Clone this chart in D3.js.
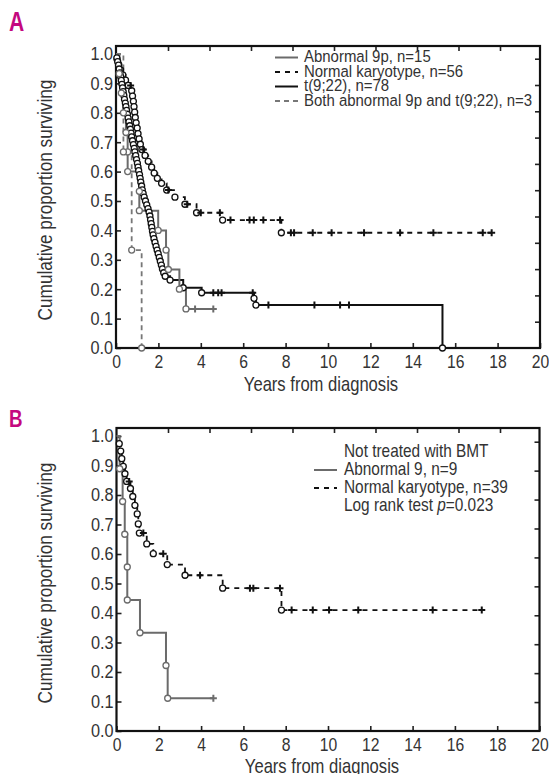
<!DOCTYPE html>
<html><head><meta charset="utf-8">
<script src="https://cdn.jsdelivr.net/npm/d3@7"></script>
<style>
body{margin:0;background:#fff}
svg{display:block}
text{font-family:'Liberation Sans',Arial,sans-serif;fill:#333}
</style>
</head><body>
<svg id="c" width="549" height="774"></svg>
<script>
// ---------- tick labels ----------
const xTicks = [0, 2, 4, 6, 8, 10, 12, 14, 16, 18, 20];
const yTicks = [0.0, 0.1, 0.2, 0.3, 0.4, 0.5, 0.6, 0.7, 0.8, 0.9, 1.0];
const topTicks = [1, 2, 3, 4, 5, 6, 7, 8, 9];
const rightTicksA = [1, 2, 3, 4, 5, 6, 7, 8, 9, 10, 11];
const rightTicksB = [1, 2, 3, 4, 5, 6, 7, 8, 9, 10];

// ---------- Panel A ----------
const aNormalEvT = [0.05,0.13,0.22,0.32,0.45,0.58,0.74,0.78,0.82,0.85,0.88,0.91,0.95,1.0,1.04,1.09,1.15,1.22,1.37,1.52,1.68,1.8,1.95,2.15,2.39,2.78,3.25,3.8,5.03,7.8];
const aNormalEvS = [0.982,0.964,0.946,0.929,0.911,0.893,0.875,0.857,0.839,0.821,0.802,0.784,0.766,0.748,0.729,0.711,0.693,0.675,0.655,0.635,0.615,0.595,0.577,0.56,0.537,0.513,0.489,0.46,0.435,0.392];
const aNormalCenT = [0.69,1.29,2.47,3.36,4.0,4.9,5.4,6.3,6.5,6.95,7.74,8.25,8.4,9.28,10.17,11.7,13.4,14.97,17.3,17.72];

const aT922EvT = [0.04,0.08,0.12,0.15,0.19,0.22,0.25,0.28,0.31,0.34,0.37,0.40,0.44,0.47,0.50,0.54,0.57,0.61,0.65,0.68,0.71,0.74,0.78,0.82,0.86,0.89,0.93,0.97,1.01,1.04,1.07,1.11,1.14,1.17,1.21,1.24,1.28,1.33,1.39,1.45,1.51,1.56,1.60,1.63,1.66,1.69,1.72,1.75,1.79,1.84,1.89,1.94,1.99,2.04,2.09,2.14,2.19,2.25,2.32,2.55,3.17,4.04,6.51,6.6,15.4];
const aT922EvS = [0.987,0.974,0.962,0.949,0.936,0.923,0.910,0.897,0.885,0.872,0.859,0.846,0.833,0.821,0.808,0.795,0.782,0.769,0.756,0.744,0.731,0.718,0.705,0.692,0.679,0.667,0.654,0.641,0.628,0.615,0.603,0.590,0.577,0.564,0.551,0.538,0.526,0.513,0.500,0.487,0.474,0.462,0.449,0.436,0.423,0.410,0.397,0.385,0.372,0.359,0.346,0.333,0.321,0.308,0.295,0.282,0.269,0.256,0.244,0.231,0.205,0.188,0.169,0.146,0.0];
const aT922CenT = [4.59,4.82,4.98,6.45,7.19,9.36,10.57,10.99];

const aAb9pEvT = [0.15,0.25,0.35,0.47,0.55,0.55,1.1,1.1,1.99,2.36,2.47,2.99,3.3];
const aAb9pEvS = [0.933,0.867,0.8,0.733,0.667,0.6,0.533,0.467,0.4,0.333,0.267,0.2,0.133];
const aAb9pCenT = [3.73,4.59];

const aBothEvT = [0.35,0.74,1.21];
const aBothEvS = [0.667,0.333,0.0];
const aBothCenT = [];

const aLegend = ["Abnormal 9p, n=15","Normal karyotype, n=56","t(9;22), n=78","Both abnormal 9p and t(9;22), n=3"];

// ---------- Panel B ----------
const bNormalEvT = [0.13,0.2,0.25,0.32,0.4,0.48,0.66,0.77,0.87,0.98,1.03,1.08,1.43,1.74,2.4,3.24,5.02,7.8];
const bNormalEvS = [0.974,0.949,0.923,0.897,0.872,0.846,0.822,0.795,0.765,0.736,0.702,0.671,0.634,0.601,0.564,0.528,0.484,0.41];
const bNormalCenT = [0.6,1.27,2.21,3.95,6.31,6.47,7.73,8.28,9.28,10.05,11.43,14.95,17.27];

const bAb9EvT = [0.15,0.29,0.39,0.51,0.51,1.11,2.34,2.42];
const bAb9EvS = [0.889,0.778,0.667,0.556,0.444,0.333,0.222,0.111];
const bAb9CenT = [4.58];

const bLegendTitle = "Not treated with BMT";
const bLegend = ["Abnormal 9, n=9","Normal karyotype, n=39"];

// ---------- drawing ----------
const svg = d3.select('#c');
const GRAY = '#6b6b6b';
const BLACK = '#111';

const styles = {
  gray:   {stroke: GRAY, width: 2, dash: null, circ: '#6b6b6b'},
  grayD:  {stroke: '#777', width: 1.8, dash: '5,4', circ: '#6b6b6b'},
  blackD: {stroke: BLACK, width: 1.8, dash: '5,5', circ: BLACK},
  black:  {stroke: BLACK, width: 2, dash: null, circ: BLACK}
};

// horizontally condense text (simulate a condensed face)
function narrow(sel, k) {
  sel.each(function () {
    const t = d3.select(this);
    const x = +t.attr('x') || 0;
    t.attr('x', x / k);
    const tr = t.attr('transform') || '';
    t.attr('transform', (tr + ` scale(${k},1)`).trim());
  });
}

function buildPanel(p) {
  const g = svg.append('g');
  const x = d3.scaleLinear().domain([0, 20]).range([p.left, p.right]);
  const y = d3.scaleLinear().domain([0, 1]).range([p.bottom, p.y1]);
  const xTop = d3.scaleLinear().domain([0, 10]).range([126.5, 541.5]);
  const yRight = d3.scaleLinear().domain([0, p.rightTicks.length]).range([p.bottom, p.bottom - 289.3]);

  // axes
  const ax = g.append('g').attr('transform', `translate(0,${p.bottom})`)
    .call(d3.axisBottom(x).tickValues(xTicks).tickSize(-5).tickPadding(7).tickFormat(d3.format('d')));
  const ay = g.append('g').attr('transform', `translate(${p.left},0)`)
    .call(d3.axisLeft(y).tickValues(yTicks).tickSize(-5).tickPadding(3).tickFormat(d3.format('.1f')));
  const at = g.append('g').attr('transform', `translate(0,${p.top})`)
    .call(d3.axisTop(xTop).tickValues(topTicks).tickSize(-5).tickFormat(''));
  const ar = g.append('g').attr('transform', `translate(${p.right},0)`)
    .call(d3.axisRight(yRight).tickValues(p.rightTicks).tickSize(-5).tickFormat(''));
  [ax, ay, at, ar].forEach(a => {
    a.select('.domain').remove();
    a.selectAll('line').attr('stroke', '#222').attr('stroke-width', 1.6);
    a.selectAll('text').attr('font-size', 18.5).attr('fill', '#333')
      .attr('font-family', "'Liberation Sans',Arial,sans-serif");
  });
  narrow(ax.selectAll('text'), 0.85);
  narrow(ay.selectAll('text'), 0.88);
  g.append('rect').attr('x', p.left).attr('y', p.top)
    .attr('width', p.right - p.left).attr('height', p.bottom - p.top)
    .attr('fill', 'none').attr('stroke', BLACK).attr('stroke-width', 2.2);

  // axis titles
  const xt = g.append('text').attr('x', p.xTitleX).attr('y', p.xTitleY)
    .attr('text-anchor', 'middle').attr('font-size', 20).text('Years from diagnosis');
  narrow(xt, 0.83);
  const yt = g.append('text').attr('transform', `translate(${p.yTitleX},${p.yTitleC}) rotate(-90)`)
    .attr('text-anchor', 'middle').attr('font-size', 20).text('Cumulative proportion surviving');
  narrow(yt, 0.86);

  // panel letter
  const lt = g.append('text').attr('x', 9).attr('y', p.letterY).attr('font-size', p.letterSize).attr('font-weight', 'bold')
    .style('fill', '#c4087f').text(p.letter);
  narrow(lt, 0.78);

  // curves
  const curveG = g.append('g');
  p.curves.forEach(c => {
    const st = styles[c.style];
    const items = c.evT.map((t, i) => ({t, s: c.evS[i], e: true}))
      .concat(c.cenT.map(t => ({t, e: false})))
      .sort((a, b) => a.t - b.t || (a.e - b.e));
    let cur = 1;
    const pts = [[x(0), y(1)]];
    const circles = [], crosses = [];
    items.forEach(it => {
      pts.push([x(it.t), y(cur)]);
      if (it.e) { cur = it.s; pts.push([x(it.t), y(cur)]); circles.push([x(it.t), y(cur)]); }
      else crosses.push([x(it.t), y(cur)]);
    });
    c.pts = pts; c.circles = circles; c.crosses = crosses; c.st = st;
  });
  p.curves.forEach(c => {
    curveG.append('path').attr('d', d3.line()(c.pts)).attr('fill', 'none')
      .attr('stroke', c.st.stroke).attr('stroke-width', c.st.width)
      .attr('stroke-dasharray', c.st.dash);
  });
  p.curves.forEach(c => {
    curveG.selectAll(null).data(c.circles).join('circle')
      .attr('cx', d => d[0]).attr('cy', d => d[1]).attr('r', 3)
      .attr('fill', '#fff').attr('stroke', c.st.circ).attr('stroke-width', 1.3);
    curveG.selectAll(null).data(c.crosses).join('path')
      .attr('d', d => `M${d[0]-3.5},${d[1]}h7M${d[0]},${d[1]-3.5}v7`)
      .attr('stroke', c.st.circ).attr('stroke-width', 2).attr('fill', 'none');
  });

  // legend
  const lg = g.append('g');
  p.legend.forEach((l, i) => {
    const yy = p.legY0 + i * p.legStep;
    if (l.style) {
      const st = styles[l.style];
      lg.append('line').attr('x1', p.legX1).attr('x2', p.legX2).attr('y1', yy - 5).attr('y2', yy - 5)
        .attr('stroke', st.stroke).attr('stroke-width', st.width).attr('stroke-dasharray', st.dash);
    }
    const t = lg.append('text').attr('x', p.legTX).attr('y', yy).attr('font-size', p.legFont);
    if (l.html) {
      t.append('tspan').text('Log rank test\u00A0');
      t.append('tspan').attr('font-style', 'italic').text('p');
      t.append('tspan').text('=0.023');
    } else t.text(l.text);
    narrow(t, p.legK);
  });
}

buildPanel({
  letter: 'A', letterY: 31, letterSize: 27,
  left: 116, right: 540, top: 46, bottom: 348, y1: 54,
  rightTicks: rightTicksA,
  xTitleX: 321, xTitleY: 391, yTitleX: 52, yTitleC: 200,
  curves: [
    {evT: aNormalEvT, evS: aNormalEvS, cenT: aNormalCenT, style: 'blackD'},
    {evT: aT922EvT, evS: aT922EvS, cenT: aT922CenT, style: 'black'},
    {evT: aAb9pEvT, evS: aAb9pEvS, cenT: aAb9pCenT, style: 'gray'},
    {evT: aBothEvT, evS: aBothEvS, cenT: aBothCenT, style: 'grayD'}
  ],
  legend: [
    {text: aLegend[0], style: 'gray'},
    {text: aLegend[1], style: 'blackD'},
    {text: aLegend[2], style: 'black'},
    {text: aLegend[3], style: 'grayD'}
  ],
  legX1: 275, legX2: 298, legTX: 304, legY0: 62.5, legStep: 14.5, legFont: 17, legK: 0.88
});

buildPanel({
  letter: 'B', letterY: 427, letterSize: 24,
  left: 116.5, right: 539.5, top: 428, bottom: 731, y1: 436,
  rightTicks: rightTicksB,
  xTitleX: 322, xTitleY: 773, yTitleX: 52, yTitleC: 583,
  curves: [
    {evT: bNormalEvT, evS: bNormalEvS, cenT: bNormalCenT, style: 'blackD'},
    {evT: bAb9EvT, evS: bAb9EvS, cenT: bAb9CenT, style: 'gray'}
  ],
  legend: [
    {text: bLegendTitle},
    {text: bLegend[0], style: 'gray'},
    {text: bLegend[1], style: 'blackD'},
    {html: true}
  ],
  legX1: 314, legX2: 337, legTX: 344, legY0: 457, legStep: 18, legFont: 17.5, legK: 0.88
});
</script>
</body></html>
